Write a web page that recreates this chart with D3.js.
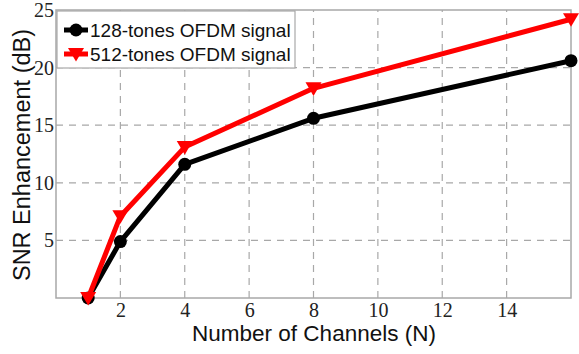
<!DOCTYPE html>
<html>
<head>
<meta charset="utf-8">
<script src="https://cdn.jsdelivr.net/npm/d3@7"></script>
<style>
  body { margin: 0; background: #fff; }
</style>
</head>
<body>
<svg id="chart"></svg>
<script>
// values
const channels = [1, 2, 4, 8, 16];
const snr128 = [0, 4.9, 11.6, 15.6, 20.6];
const snr512 = [0, 7.1, 13.1, 18.2, 24.2];
const xTicks = [2, 4, 6, 8, 10, 12, 14];
const yTicks = [5, 10, 15, 20, 25];
const seriesNames = ["128-tones OFDM signal", "512-tones OFDM signal"];

const width = 579, height = 354;
const margin = { top: 10, right: 8, bottom: 56, left: 56 };

const svg = d3.select("#chart").attr("width", width).attr("height", height);

const x = d3.scaleLinear().domain([0, 16]).range([margin.left, width - margin.right]);
const y = d3.scaleLinear().domain([0, 25]).range([height - margin.bottom, margin.top]);

const gridColor = "#a8a8a8";
const serif = "'Liberation Serif', 'Times New Roman', serif";
const sans = "'Liberation Sans', Arial, sans-serif";

// dashed grid
svg.append("g")
    .selectAll("line")
    .data(xTicks)
    .join("line")
    .attr("x1", d => x(d)).attr("x2", d => x(d))
    .attr("y1", y(0)).attr("y2", y(25))
    .attr("stroke", gridColor)
    .attr("stroke-width", 1.2)
    .attr("stroke-dasharray", "7,6");

svg.append("g")
    .selectAll("line")
    .data(yTicks.slice(0, -1))
    .join("line")
    .attr("x1", x(0)).attr("x2", x(16))
    .attr("y1", d => y(d)).attr("y2", d => y(d))
    .attr("stroke", gridColor)
    .attr("stroke-width", 1.2)
    .attr("stroke-dasharray", "7,6");

// axes box
svg.append("rect")
    .attr("x", x(0)).attr("y", y(25))
    .attr("width", x(16) - x(0)).attr("height", y(0) - y(25))
    .attr("fill", "none")
    .attr("stroke", gridColor)
    .attr("stroke-width", 1.5);

const xAxis = g => g
    .attr("transform", `translate(0,${y(0)})`)
    .call(d3.axisBottom(x).tickValues(xTicks).tickSize(0).tickPadding(5))
    .call(g => g.select(".domain").remove())
    .call(g => g.selectAll("text")
        .style("font-family", serif)
        .style("font-size", "20px")
        .style("fill", "#222"));

const yAxis = g => g
    .attr("transform", `translate(${x(0)},0)`)
    .call(d3.axisLeft(y).tickValues(yTicks).tickSize(0).tickPadding(2))
    .call(g => g.select(".domain").remove())
    .call(g => g.selectAll("text")
        .style("font-family", serif)
        .style("font-size", "20px")
        .style("fill", "#222"));

svg.append("g").call(xAxis);
svg.append("g").call(yAxis);

// lines
const line = d3.line().x(d => x(d[0])).y(d => y(d[1]));
const series = [
    { name: seriesNames[0], values: snr128, color: "#000", marker: "circle" },
    { name: seriesNames[1], values: snr512, color: "#ff0000", marker: "tri" }
];

const tri = s => `M${-s},${-s * 0.75}L${s},${-s * 0.75}L0,${s * 0.95}Z`;

series.forEach(s => {
    const pts = channels.map((c, i) => [c, s.values[i]]);
    svg.append("path")
        .datum(pts)
        .attr("d", line)
        .attr("fill", "none")
        .attr("stroke", s.color)
        .attr("stroke-width", 5)
        .attr("stroke-linejoin", "round");

    if (s.marker === "circle") {
        svg.append("g").selectAll("circle")
            .data(pts)
            .join("circle")
            .attr("cx", d => x(d[0]))
            .attr("cy", d => y(d[1]))
            .attr("r", 6.5)
            .attr("fill", s.color);
    } else {
        svg.append("g").selectAll("path")
            .data(pts)
            .join("path")
            .attr("transform", d => `translate(${x(d[0])},${y(d[1])})`)
            .attr("d", tri(8))
            .attr("fill", s.color);
    }
});

// legend
const legend = svg.append("g");
legend.append("rect")
    .attr("x", x(0) + 1).attr("y", y(25) + 1)
    .attr("width", 238).attr("height", 57)
    .attr("fill", "#fff")
    .attr("stroke", gridColor)
    .attr("stroke-width", 1.2);

series.forEach((s, i) => {
    const ly = y(25) + 20 + i * 24;
    const lx = x(0) + 20;
    legend.append("line")
        .attr("x1", lx - 12).attr("x2", lx + 12)
        .attr("y1", ly).attr("y2", ly)
        .attr("stroke", s.color)
        .attr("stroke-width", 5);
    if (s.marker === "circle") {
        legend.append("circle").attr("cx", lx).attr("cy", ly).attr("r", 6.5).attr("fill", s.color);
    } else {
        legend.append("path").attr("transform", `translate(${lx},${ly})`).attr("d", tri(8)).attr("fill", s.color);
    }
    legend.append("text")
        .attr("x", lx + 14).attr("y", ly)
        .attr("dy", "0.35em")
        .attr("font-family", sans)
        .attr("font-size", 19)
        .attr("fill", "#111")
        .text(s.name);
});

// axis titles
svg.append("text")
    .attr("x", 314)
    .attr("y", 341)
    .attr("text-anchor", "middle")
    .attr("font-family", sans)
    .attr("font-size", 22.5)
    .attr("fill", "#111")
    .text("Number of Channels (N)");

svg.append("text")
    .attr("transform", `translate(30,155) rotate(-90)`)
    .attr("text-anchor", "middle")
    .attr("font-family", sans)
    .attr("font-size", 23.5)
    .attr("fill", "#111")
    .text("SNR Enhancement (dB)");
</script>
</body>
</html>
